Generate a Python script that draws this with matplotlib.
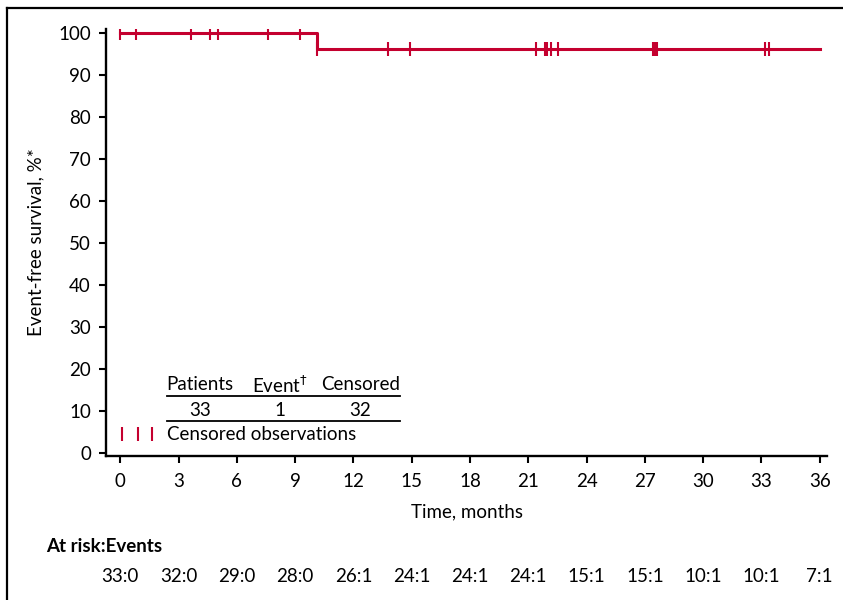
import matplotlib.pyplot as plt
from matplotlib.lines import Line2D

plt.rcParams['font.family'] = ['Lato', 'DejaVu Sans']

# step curve: time of change and survival (%)
step_times = [0, 10.15, 36]
step_surv = [100, 96.15, 96.15]

# censored observations (months) with survival level at that time
censor_before = [0, 0.8, 3.65, 4.6, 5.05, 7.6, 9.25]
censor_after = [10.15, 13.8, 14.9, 21.4, 21.85, 21.95, 22.15, 22.55,
                27.4, 27.52, 27.64, 33.2, 33.4]

month_ticks = [0, 3, 6, 9, 12, 15, 18, 21, 24, 27, 30, 33, 36]
at_risk = ['33:0', '32:0', '29:0', '28:0', '26:1', '24:1', '24:1',
           '24:1', '15:1', '15:1', '10:1', '10:1', '7:1']

table_header = ['Patients', 'Event$^{\\dagger}$', 'Censored']
table_values = ['33', '1', '32']

red = '#c4002f'
fs = 13.5

fig = plt.figure(figsize=(8.43, 6), dpi=100)
ax = fig.add_axes([0.126, 0.24, 0.855, 0.712])

ax.step(step_times, step_surv, where='post', color=red, lw=2.2, zorder=3)
ax.plot(censor_before, [100] * len(censor_before), ls='none', marker='|',
        ms=10, mew=1.5, color=red, zorder=4)
ax.plot(censor_after, [96.15] * len(censor_after), ls='none', marker='|',
        ms=10, mew=1.5, color=red, zorder=4)

ax.set_xlim(-0.72, 36.37)
ax.set_ylim(-0.7, 100.9)
ax.set_xticks(month_ticks)
ax.set_yticks(range(0, 101, 10))
ax.tick_params(labelsize=fs, length=5, width=1.5)
ax.tick_params(axis='y', pad=6)
ax.tick_params(axis='x', pad=7)
for s in ['top', 'right']:
    ax.spines[s].set_visible(False)
for s in ['left', 'bottom']:
    ax.spines[s].set_linewidth(1.7)

ax.set_xlabel('Time, months', fontsize=fs, labelpad=10)
ax.set_ylabel('Event-free survival, %*', fontsize=fs, labelpad=10)

# little table inside the plot
col_x = [4.12, 8.2, 12.35]
for cx, h, v in zip(col_x, table_header, table_values):
    ax.text(cx, 16.2, h, ha='center', va='center', fontsize=fs)
    ax.text(cx, 10.2, v, ha='center', va='center', fontsize=fs)
ax.plot([2.42, 14.4], [13.6, 13.6], color='black', lw=1.3)
ax.plot([2.42, 14.4], [7.6, 7.6], color='black', lw=1.3)
ax.plot([0.09, 0.89, 1.66], [4.6, 4.6, 4.6], ls='none', marker='|',
        ms=10, mew=1.5, color=red)
ax.text(2.42, 4.4, 'Censored observations', ha='left', va='center',
        fontsize=fs)

# numbers at risk under the axis
fig.text(46 / 843, 1 - 546 / 600, 'At risk:Events', fontsize=fs,
         fontweight='bold', ha='left', va='center')
for m, r in zip(month_ticks, at_risk):
    xf = fig.transFigure.inverted().transform(ax.transData.transform((m, 0)))[0]
    fig.text(xf, 1 - 576 / 600, r, fontsize=fs, ha='center', va='center')

# frame on left and top
fig.add_artist(Line2D([7 / 843, 7 / 843], [0, 1 - 8 / 600], color='black', lw=1.6))
fig.add_artist(Line2D([7 / 843, 1], [1 - 8 / 600, 1 - 8 / 600], color='black', lw=1.6))

fig.savefig('out.png', dpi=100)
